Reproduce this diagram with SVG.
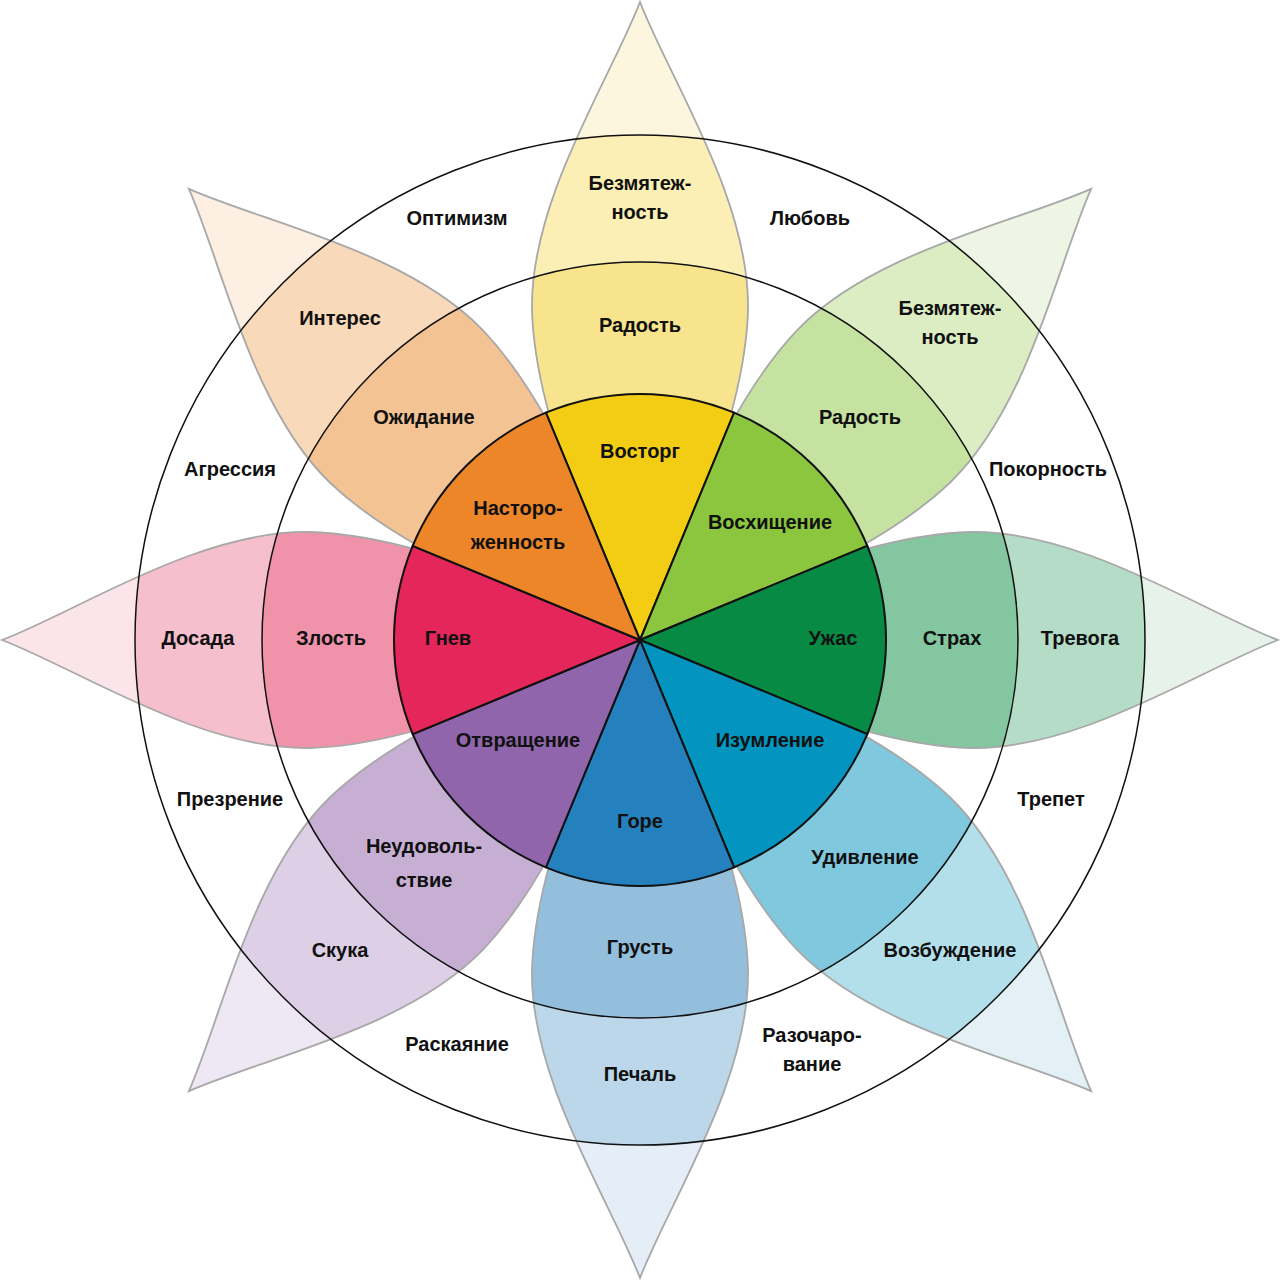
<svg xmlns="http://www.w3.org/2000/svg" width="1280" height="1280" viewBox="0 0 1280 1280">
<style>
text{font-family:"Liberation Sans","DejaVu Sans",sans-serif;font-weight:bold;font-size:20px;fill:#111;text-anchor:middle;dominant-baseline:middle}
.pe{stroke:none}
.po{fill:none;stroke:#a8a8a8;stroke-width:1.8}
.seg{stroke:#111;stroke-width:2}
.ring{fill:none;stroke:#111;stroke-width:1.5}
</style>
<defs>
<path id="petal" d="M0,-638 C-30,-560 -110,-440 -108,-330 C-105,-220 -40,-80 0,0 C40,-80 105,-220 108,-330 C110,-440 30,-560 0,-638 Z"/>
<clipPath id="c505"><circle cx="0" cy="0" r="505"/></clipPath>
<clipPath id="c378"><circle cx="0" cy="0" r="378"/></clipPath>
</defs>
<rect width="1280" height="1280" fill="#fff"/>
<g id="petals" transform="translate(640,640)">
<g id="p0"><use href="#petal" fill="#fcf6df"/><use href="#petal" fill="#fbefb5" clip-path="url(#c505)"/><use href="#petal" fill="#f8e48c" clip-path="url(#c378)"/><use href="#petal" class="po"/></g>
<g id="p45" transform="rotate(45)"><use href="#petal" fill="#eef5e4"/><use href="#petal" fill="#dcedc4" clip-path="url(#c505)"/><use href="#petal" fill="#c5e2a0" clip-path="url(#c378)"/><use href="#petal" class="po"/></g>
<g id="p90" transform="rotate(90)"><use href="#petal" fill="#e6f2ea"/><use href="#petal" fill="#b4dcc6" clip-path="url(#c505)"/><use href="#petal" fill="#84c6a0" clip-path="url(#c378)"/><use href="#petal" class="po"/></g>
<g id="p135" transform="rotate(135)"><use href="#petal" fill="#e3f1f6"/><use href="#petal" fill="#b3dfea" clip-path="url(#c505)"/><use href="#petal" fill="#80c8de" clip-path="url(#c378)"/><use href="#petal" class="po"/></g>
<g id="p180" transform="rotate(180)"><use href="#petal" fill="#e5eef7"/><use href="#petal" fill="#bcd6ea" clip-path="url(#c505)"/><use href="#petal" fill="#93bedc" clip-path="url(#c378)"/><use href="#petal" class="po"/></g>
<g id="p225" transform="rotate(225)"><use href="#petal" fill="#ede8f3"/><use href="#petal" fill="#ddd0e6" clip-path="url(#c505)"/><use href="#petal" fill="#c7afd4" clip-path="url(#c378)"/><use href="#petal" class="po"/></g>
<g id="p270" transform="rotate(270)"><use href="#petal" fill="#fbe5ea"/><use href="#petal" fill="#f5bfcd" clip-path="url(#c505)"/><use href="#petal" fill="#f092aa" clip-path="url(#c378)"/><use href="#petal" class="po"/></g>
<g id="p315" transform="rotate(315)"><use href="#petal" fill="#fdf0e3"/><use href="#petal" fill="#f8d9b9" clip-path="url(#c505)"/><use href="#petal" fill="#f4c393" clip-path="url(#c378)"/><use href="#petal" class="po"/></g>
</g>
<g id="rings">
<circle class="ring" cx="640" cy="640" r="505"/>
<circle class="ring" cx="640" cy="640" r="378"/>
</g>
<g id="disc">
<path class="seg" fill="#f2cd14" d="M640,640 L545.9,412.7 A246,246 0 0 1 734.1,412.7 Z"/>
<path class="seg" fill="#8cc63f" d="M640,640 L734.1,412.7 A246,246 0 0 1 867.3,545.9 Z"/>
<path class="seg" fill="#068a44" d="M640,640 L867.3,545.9 A246,246 0 0 1 867.3,734.1 Z"/>
<path class="seg" fill="#0395bf" d="M640,640 L867.3,734.1 A246,246 0 0 1 734.1,867.3 Z"/>
<path class="seg" fill="#2581be" d="M640,640 L734.1,867.3 A246,246 0 0 1 545.9,867.3 Z"/>
<path class="seg" fill="#9065ab" d="M640,640 L545.9,867.3 A246,246 0 0 1 412.7,734.1 Z"/>
<path class="seg" fill="#e5265a" d="M640,640 L412.7,734.1 A246,246 0 0 1 412.7,545.9 Z"/>
<path class="seg" fill="#ec8628" d="M640,640 L412.7,545.9 A246,246 0 0 1 545.9,412.7 Z"/>
</g>
<g id="labels">
<text x="640" y="453">Восторг</text>
<text x="770" y="524">Восхищение</text>
<text x="833" y="640">Ужас</text>
<text x="770" y="742">Изумление</text>
<text x="640" y="823">Горе</text>
<text x="518" y="742">Отвращение</text>
<text x="448" y="640">Гнев</text>
<text x="518" y="510">Насторо-</text><text x="518" y="544">женность</text>
<text x="640" y="327">Радость</text>
<text x="640" y="185">Безмятеж-</text><text x="640" y="214">ность</text>
<text x="860" y="419">Радость</text>
<text x="950" y="310">Безмятеж-</text><text x="950" y="339">ность</text>
<text x="952" y="640">Страх</text>
<text x="1080" y="640">Тревога</text>
<text x="865" y="859">Удивление</text>
<text x="950" y="952">Возбуждение</text>
<text x="640" y="949">Грусть</text>
<text x="640" y="1076">Печаль</text>
<text x="424" y="848">Неудоволь-</text><text x="424" y="882">ствие</text>
<text x="340" y="952">Скука</text>
<text x="331" y="640">Злость</text>
<text x="198" y="640">Досада</text>
<text x="424" y="419">Ожидание</text>
<text x="340" y="320">Интерес</text>
<text x="457" y="220">Оптимизм</text>
<text x="810" y="220">Любовь</text>
<text x="230" y="471">Агрессия</text>
<text x="1048" y="471">Покорность</text>
<text x="230" y="801">Презрение</text>
<text x="1051" y="801">Трепет</text>
<text x="457" y="1046">Раскаяние</text>
<text x="812" y="1037">Разочаро-</text><text x="812" y="1066">вание</text>
</g>
</svg>
